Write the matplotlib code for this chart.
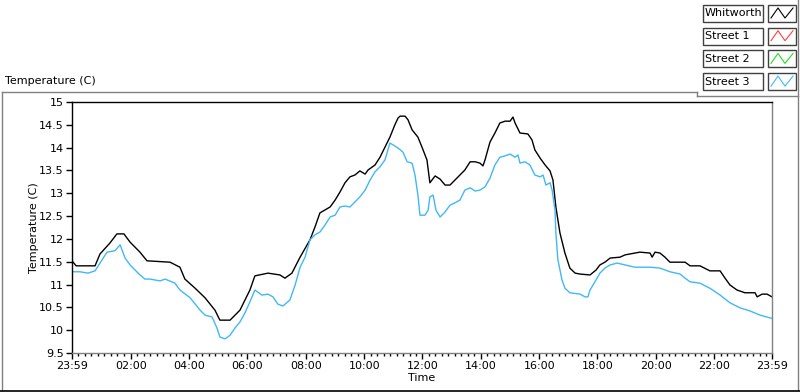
import matplotlib
matplotlib.use("Agg")
import matplotlib.pyplot as plt
from matplotlib.lines import Line2D
from matplotlib.patches import Rectangle

# hours since 23:59 (start of the record) and temperature in C
whitworth_t = [0, 0.14, 0.79, 0.96, 1.30, 1.54, 1.78, 1.99, 2.33, 2.57, 3.36, 3.70, 3.87,
               4.22, 4.56, 4.90, 5.07, 5.42, 5.76, 6.10, 6.27, 6.72, 7.13, 7.30, 7.54,
               7.82, 8.16, 8.33, 8.50, 8.85, 9.02, 9.19, 9.36, 9.53, 9.70, 9.87, 10.05,
               10.15, 10.39, 10.56, 10.73, 10.90, 11.07, 11.18, 11.25, 11.42, 11.52,
               11.66, 11.86, 12.00, 12.17, 12.27, 12.45, 12.62, 12.79, 12.96, 13.13,
               13.30, 13.47, 13.65, 13.82, 13.99, 14.09, 14.16, 14.33, 14.50, 14.67,
               14.85, 15.02, 15.12, 15.19, 15.36, 15.63, 15.77, 15.87, 16.05, 16.22,
               16.39, 16.49, 16.59, 16.73, 16.90, 17.07, 17.25, 17.42, 17.76, 17.97,
               18.10, 18.27, 18.45, 18.79, 18.96, 19.47, 19.82, 19.89, 19.99, 20.16,
               20.33, 20.50, 21.02, 21.19, 21.53, 21.87, 22.22, 22.39, 22.56, 22.80,
               23.07, 23.42, 23.49, 23.66, 23.83, 24.0]
whitworth = [11.52, 11.41, 11.41, 11.67, 11.91, 12.11, 12.11, 11.93, 11.71, 11.52, 11.49,
             11.38, 11.12, 10.92, 10.71, 10.44, 10.22, 10.22, 10.44, 10.88, 11.19, 11.25,
             11.21, 11.14, 11.25, 11.60, 11.98, 12.26, 12.57, 12.70, 12.85, 13.03, 13.23,
             13.36, 13.40, 13.49, 13.42, 13.51, 13.62, 13.79, 14.01, 14.23, 14.50, 14.65,
             14.69, 14.69, 14.61, 14.39, 14.23, 14.01, 13.73, 13.23, 13.38, 13.31, 13.18,
             13.18, 13.29, 13.40, 13.51, 13.69, 13.69, 13.66, 13.60, 13.73, 14.12, 14.32,
             14.54, 14.58, 14.58, 14.67, 14.54, 14.32, 14.30, 14.17, 13.95, 13.77, 13.62,
             13.49, 13.29, 12.70, 12.13, 11.69, 11.36, 11.25, 11.23, 11.21, 11.32, 11.43,
             11.49, 11.58, 11.60, 11.65, 11.71, 11.69, 11.60, 11.71, 11.69, 11.60, 11.49,
             11.49, 11.41, 11.41, 11.30, 11.30, 11.14, 10.99, 10.88, 10.82, 10.82, 10.73,
             10.79, 10.79, 10.73]

street3_t = [0, 0.27, 0.55, 0.79, 0.96, 1.20, 1.47, 1.65, 1.82, 1.99, 2.33, 2.50, 2.67,
             3.02, 3.19, 3.53, 3.70, 4.05, 4.39, 4.56, 4.80, 4.97, 5.07, 5.25, 5.42, 5.59,
             5.76, 5.93, 6.10, 6.27, 6.51, 6.72, 6.89, 7.06, 7.23, 7.47, 7.65, 7.82, 7.99,
             8.16, 8.33, 8.50, 8.67, 8.85, 9.02, 9.19, 9.36, 9.53, 9.70, 9.87, 10.05,
             10.22, 10.39, 10.56, 10.73, 10.90, 11.01, 11.18, 11.35, 11.49, 11.66, 11.76,
             11.86, 11.93, 12.10, 12.21, 12.27, 12.38, 12.48, 12.62, 12.79, 12.96, 13.13,
             13.30, 13.47, 13.65, 13.82, 13.99, 14.16, 14.33, 14.50, 14.67, 14.85, 15.02,
             15.19, 15.29, 15.36, 15.53, 15.70, 15.87, 16.05, 16.15, 16.25, 16.39, 16.46,
             16.56, 16.59, 16.66, 16.80, 16.90, 17.07, 17.42, 17.59, 17.69, 17.76, 17.93,
             18.10, 18.27, 18.45, 18.69, 18.96, 19.30, 19.82, 20.16, 20.50, 20.85, 21.02,
             21.19, 21.53, 21.87, 22.22, 22.56, 22.90, 23.25, 23.59, 23.93, 24.0]
street3 = [11.28, 11.28, 11.25, 11.30, 11.47, 11.71, 11.74, 11.87, 11.58, 11.43, 11.21,
           11.12, 11.12, 11.08, 11.12, 11.03, 10.88, 10.71, 10.44, 10.33, 10.29, 10.05,
           9.85, 9.81, 9.89, 10.05, 10.18, 10.38, 10.62, 10.88, 10.77, 10.79, 10.73, 10.57,
           10.53, 10.66, 10.99, 11.38, 11.60, 11.98, 12.09, 12.15, 12.30, 12.48, 12.52,
           12.70, 12.72, 12.70, 12.81, 12.92, 13.07, 13.29, 13.47, 13.58, 13.73, 14.10,
           14.06, 13.99, 13.90, 13.69, 13.66, 13.40, 12.96, 12.52, 12.52, 12.63, 12.92,
           12.96, 12.63, 12.48, 12.59, 12.74, 12.79, 12.85, 13.07, 13.12, 13.05, 13.07,
           13.14, 13.33, 13.62, 13.79, 13.82, 13.86, 13.79, 13.84, 13.66, 13.69, 13.62,
           13.40, 13.36, 13.40, 13.18, 13.23, 13.07, 12.63, 12.13, 11.54, 11.10, 10.92,
           10.82, 10.79, 10.73, 10.73, 10.88, 11.06, 11.25, 11.36, 11.43, 11.47, 11.43,
           11.38, 11.38, 11.36, 11.28, 11.23, 11.14, 11.06, 11.03, 10.92, 10.77, 10.60,
           10.49, 10.42, 10.33, 10.27, 10.26]

legend_names = ["Whitworth", "Street 1", "Street 2", "Street 3"]
legend_colors = ["black", "#ff4040", "#20e020", "#40b8f8"]

x_ticks = [0] + [2 * k + 1 / 60 for k in range(1, 12)] + [24]
x_labels = ["23:59", "02:00", "04:00", "06:00", "08:00", "10:00", "12:00",
            "14:00", "16:00", "18:00", "20:00", "22:00", "23:59"]
y_ticks = [9.5, 10, 10.5, 11, 11.5, 12, 12.5, 13, 13.5, 14, 14.5, 15]

plt.rcParams["font.family"] = "DejaVu Sans"
plt.rcParams["font.size"] = 8

W, H = 800, 392
fig = plt.figure(figsize=(W / 100, H / 100), dpi=100)
ax = fig.add_axes((72 / W, 1 - 353 / H, 700 / W, 251 / H))

ax.plot(whitworth_t, whitworth, color="black", lw=1.0)
ax.plot(street3_t, street3, color=legend_colors[3], lw=1.0)

ax.set_xlim(0, 24)
ax.set_ylim(9.5, 15)
ax.set_xticks(x_ticks)
ax.set_xticklabels(x_labels)
minor = [t + k * 2 / 9 for t in x_ticks[:-1] for k in range(1, 9)]
ax.set_xticks([m for m in minor if m < 24], minor=True)
ax.set_yticks(y_ticks)
ax.set_yticklabels(["%g" % v for v in y_ticks])
ax.tick_params(axis="both", direction="out", length=4, width=1, pad=2, colors="black")
ax.tick_params(axis="x", which="minor", length=2.5, width=1)

ax.spines["left"].set_color("black")
ax.spines["top"].set_color("black")
ax.spines["right"].set_color("#808080")
ax.spines["bottom"].set_color("#808080")
for s in ax.spines.values():
    s.set_linewidth(1)

ax.set_xlabel("Time", labelpad=1)
ax.set_ylabel("Temperature (C)", labelpad=0)

fig.text(5 / W, 1 - 81 / H, "Temperature (C)", ha="left", va="center")

# outer panel frame
frame = dict(color="#808080", lw=1, transform=fig.transFigure)
fig.add_artist(Line2D([1.5 / W, 697 / W], [1 - 91.5 / H] * 2, **frame))
fig.add_artist(Line2D([1.5 / W] * 2, [1 - 91.5 / H, 1 - 390 / H], **frame))
fig.add_artist(Line2D([697 / W] * 2, [1 - 91.5 / H, 1 - 95.5 / H], **frame))
fig.add_artist(Line2D([697 / W, 797.5 / W], [1 - 95.5 / H] * 2, **frame))
fig.add_artist(Line2D([797.5 / W] * 2, [1, 1 - 390 / H], **frame))
fig.add_artist(Line2D([0, 1], [1 - 390.5 / H] * 2, color="black", lw=1.2,
                      transform=fig.transFigure))

# legend boxes
for i, (name, col) in enumerate(zip(legend_names, legend_colors)):
    top = 5 + i * 22.7
    h = 17
    fig.add_artist(Rectangle((703 / W, 1 - (top + h) / H), 60 / W, h / H,
                             transform=fig.transFigure, facecolor="white",
                             edgecolor="#404040", lw=1))
    fig.text(705 / W, 1 - (top + h / 2) / H, name, ha="left", va="center", fontsize=8)
    fig.add_artist(Rectangle((768 / W, 1 - (top + h) / H), 28 / W, h / H,
                             transform=fig.transFigure, facecolor="white",
                             edgecolor="#404040", lw=1))
    zx = [771, 778, 785, 793]
    zy = [top + 13, top + 3, top + 13, top + 3]
    fig.add_artist(Line2D([v / W for v in zx], [1 - v / H for v in zy], color=col,
                          lw=0.8, transform=fig.transFigure))

fig.savefig("out.png", dpi=100, facecolor="white")
